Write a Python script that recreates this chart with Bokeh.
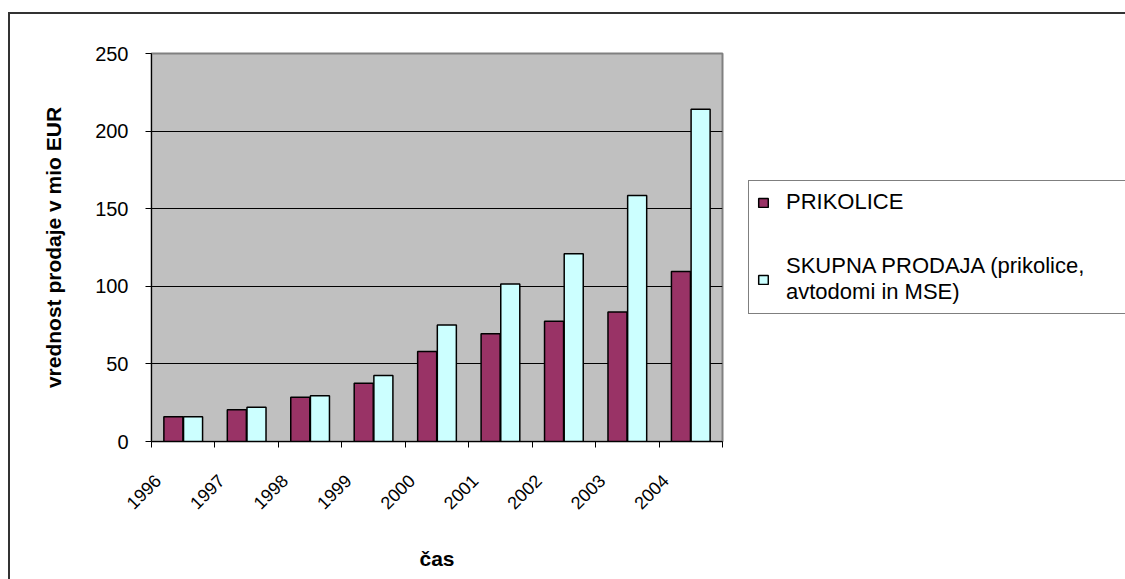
import numpy as np
from bokeh.plotting import figure
from bokeh.models import ColumnDataSource, Range1d, FixedTicker, Legend, LegendItem
from bokeh.transform import dodge
from bokeh.embed import file_html
from bokeh.resources import INLINE

# ---- data ----
years = ["1996", "1997", "1998", "1999", "2000", "2001", "2002", "2003", "2004"]
prikolice = [16, 20.5, 28.5, 37.5, 58, 69.5, 77.5, 83.5, 109.5]
skupna = [16, 22, 29.5, 42.5, 75, 101.5, 121, 158.5, 214]
y_ticks = [0, 50, 100, 150, 200, 250]
series_names = ["PRIKOLICE", "SKUPNA PRODAJA (prikolice,\navtodomi in MSE)"]
x_title = "čas"
y_title = "vrednost prodaje v mio EUR"

FONT = "Liberation Sans"
n = len(years)
pos = np.arange(n) + 0.5
src = ColumnDataSource(dict(x=pos, year=years, prikolice=prikolice, skupna=skupna))

p = figure(frame_width=571, frame_height=388, x_range=Range1d(0, n), y_range=Range1d(0, 250),
           output_backend="svg", toolbar_location=None,
           min_border_left=141, min_border_right=403, min_border_top=39, min_border_bottom=140)

p.styles = {"margin-left": "8px", "margin-top": "12px",
            "border-left": "2px solid #333333", "border-top": "2px solid #333333"}

p.background_fill_color = "#C0C0C0"
p.border_fill_color = "white"
p.outline_line_color = "#808080"
p.outline_line_width = 2

r1 = p.vbar(x=dodge("x", -0.155), top="prikolice", width=0.3, source=src,
            fill_color="#993366", line_color="black", line_width=1.5)
r2 = p.vbar(x=dodge("x", 0.155), top="skupna", width=0.3, source=src,
            fill_color="#CCFFFF", line_color="black", line_width=1.5)

# x axis: boundary ticks as minor ticks, labels shifted left of centre
label_pos = [i + 0.1 for i in range(n)]
xa = p.xaxis[0]
xa.ticker = FixedTicker(ticks=label_pos, minor_ticks=list(range(n + 1)))
xa.major_label_overrides = {lp: y for lp, y in zip(label_pos, years)}
xa.major_tick_out = 0
xa.major_tick_in = 0
xa.minor_tick_out = 6
xa.minor_tick_in = 0
xa.minor_tick_line_color = "black"
xa.axis_line_color = "black"
xa.major_label_orientation = np.pi / 4
xa.major_label_text_font = FONT
xa.major_label_text_font_size = "18px"
xa.major_label_text_color = "black"
xa.major_label_standoff = 30
xa.axis_label = x_title
xa.axis_label_text_font = FONT
xa.axis_label_text_font_size = "21px"
xa.axis_label_text_font_style = "bold"
xa.axis_label_text_color = "black"
xa.axis_label_standoff = 29

ya = p.yaxis[0]
ya.ticker = FixedTicker(ticks=y_ticks, minor_ticks=[])
ya.major_tick_out = 6
ya.major_tick_in = 0
ya.major_tick_line_color = "black"
ya.axis_line_color = "black"
ya.major_label_text_font = FONT
ya.major_label_text_font_size = "20px"
ya.major_label_text_color = "black"
ya.major_label_standoff = 17
ya.axis_label = y_title
ya.axis_label_text_font = FONT
ya.axis_label_text_font_size = "21px"
ya.axis_label_text_font_style = "bold"
ya.axis_label_text_color = "black"
ya.axis_label_standoff = 27

p.xgrid.visible = False
p.ygrid.ticker = FixedTicker(ticks=y_ticks)
p.ygrid.grid_line_color = "black"
p.ygrid.grid_line_width = 1

legend = Legend(items=[LegendItem(label=series_names[0], renderers=[r1]),
                       LegendItem(label=series_names[1], renderers=[r2])],
                location=(26, 127))
legend.label_text_font = FONT
legend.label_text_font_size = "22px"
legend.label_text_color = "black"
legend.label_width = 360
legend.glyph_width = 12
legend.glyph_height = 11
legend.label_standoff = 17
legend.padding = 8
legend.spacing = 38
legend.margin = 0
legend.border_line_color = "black"
legend.border_line_width = 1
legend.background_fill_color = "white"
legend.background_fill_alpha = 1
p.add_layout(legend, "right")

open("out.html", "w").write(file_html(p, INLINE))
